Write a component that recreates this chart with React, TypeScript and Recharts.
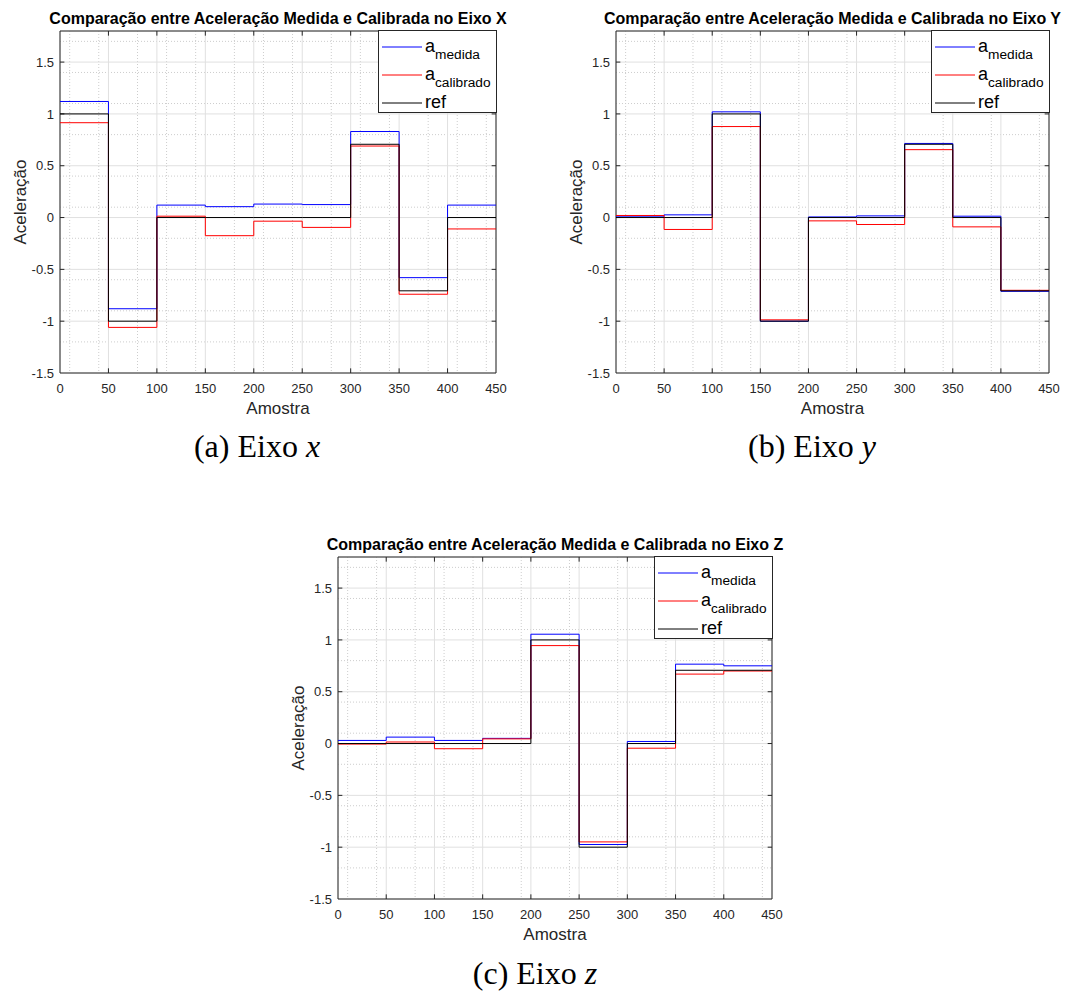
import React from 'react';
import { LineChart, Line, XAxis, YAxis, CartesianGrid, ReferenceArea, ReferenceLine, Legend } from 'recharts';

const FONT = '"Liberation Sans", Arial, Helvetica, sans-serif';
const SERIF = '"Liberation Serif", "Times New Roman", serif';

// sample positions of segment starts (x axis: Amostra)
const samples = [0, 50, 100, 150, 200, 250, 300, 350, 400, 450];
const xTicks = [0, 50, 100, 150, 200, 250, 300, 350, 400, 450];
const yTicks = [-1.5, -1, -0.5, 0, 0.5, 1, 1.5];
const xMinor = [10, 20, 30, 40, 60, 70, 80, 90, 110, 120, 130, 140, 160, 170, 180, 190, 210, 220, 230, 240, 260, 270, 280, 290, 310, 320, 330, 340, 360, 370, 380, 390, 410, 420, 430, 440];
const yMinor = [-1.4, -1.3, -1.2, -1.1, -0.9, -0.8, -0.7, -0.6, -0.4, -0.3, -0.2, -0.1, 0.1, 0.2, 0.3, 0.4, 0.6, 0.7, 0.8, 0.9, 1.1, 1.2, 1.3, 1.4, 1.6, 1.7];

// Eixo X
const xMedida = [1.12, -0.88, 0.12, 0.105, 0.13, 0.125, 0.83, -0.58, 0.12];
const xCalibrado = [0.915, -1.06, 0.013, -0.175, -0.035, -0.095, 0.69, -0.74, -0.11];
const xRef = [1, -1, 0, 0, 0, 0, 0.707, -0.707, 0];

// Eixo Y
const yMedida = [0.013, 0.026, 1.02, -1.0, 0.006, 0.016, 0.715, 0.013, -0.712];
const yCalibrado = [0.02, -0.115, 0.878, -0.987, -0.032, -0.067, 0.655, -0.09, -0.702];
const yRef = [0, 0, 1, -1, 0, 0, 0.707, 0, -0.707];

// Eixo Z
const zMedida = [0.03, 0.062, 0.03, 0.05, 1.055, -0.974, 0.02, 0.766, 0.75];
const zCalibrado = [-0.005, 0.015, -0.05, 0.045, 0.945, -0.949, -0.045, 0.67, 0.7];
const zRef = [0, 0, 0, 0, 1, -1, 0, 0.707, 0.707];

const X_MIN = 0;
const X_MAX = 450;
const Y_MIN = -1.5;
const Y_MAX = 1.8;
const TICK_LEN_Y = 0.045;
const TICK_LEN_X = 4.5;

function buildData(med: number[], cal: number[], ref: number[]) {
  return samples.map((s, i) => {
    const k = Math.min(i, med.length - 1);
    return { s, med: med[k], cal: cal[k], ref: ref[k] };
  });
}

const legendRows = [
  { color: '#0000ff', main: 'a', sub: 'medida' },
  { color: '#ff0000', main: 'a', sub: 'calibrado' },
  { color: '#000000', main: 'ref', sub: '' },
];

const LegendBox = () => (
  <div style={{ width: 119, height: 83, border: '1px solid #262626', background: '#fff', boxSizing: 'border-box' }}>
    <svg width={117} height={81} style={{ display: 'block' }}>
      {legendRows.map((r, i) => {
        const y = 16 + i * 28;
        return (
          <g key={i}>
            <line x1={3} x2={43} y1={y} y2={y} stroke={r.color} strokeWidth={1} />
            <text x={46} y={y + 5} fontSize={18} fontFamily={FONT} fill="#000">
              {r.main}
              {r.sub ? (
                <tspan fontSize={13.7} dy={7}>
                  {r.sub}
                </tspan>
              ) : null}
            </text>
          </g>
        );
      })}
    </svg>
  </div>
);

type PanelProps = {
  left: number;
  top: number;
  width: number;
  mr: number;
  med: number[];
  cal: number[];
  ref: number[];
};

function Panel({ left, top, width, mr, med, cal, ref }: PanelProps) {
  const data = buildData(med, cal, ref);
  const plotRight = width - mr;
  const innerTicksX = xTicks.filter((t) => t !== X_MIN && t !== X_MAX);
  const innerTicksY = yTicks.filter((t) => t !== Y_MIN);
  return (
    <div style={{ position: 'absolute', left, top }}>
      <LineChart width={width} height={430} data={data} margin={{ top: 31, right: mr, left: 0, bottom: 0 }}>
        <CartesianGrid verticalValues={xMinor} horizontalValues={yMinor} stroke="#cdcdcd" strokeDasharray="1 2" />
        <CartesianGrid stroke="#e0e0e0" />
        <XAxis
          dataKey="s"
          type="number"
          domain={[X_MIN, X_MAX]}
          ticks={xTicks}
          allowDataOverflow
          axisLine={false}
          tickLine={false}
          tickSize={0}
          tickMargin={11}
          height={57}
          tick={{ fontSize: 13, fill: '#262626', fontFamily: FONT }}
          label={(p: any) => {
            const vb = (p && p.viewBox) || { x: 60, y: 373, width: 436 };
            return (
              <text x={vb.x + vb.width / 2} y={vb.y + 41} textAnchor="middle" fontSize={17} fill="#262626" fontFamily={FONT}>
                Amostra
              </text>
            );
          }}
        />
        <YAxis
          type="number"
          domain={[Y_MIN, Y_MAX]}
          ticks={yTicks}
          allowDataOverflow
          axisLine={false}
          tickLine={false}
          tickSize={0}
          tickMargin={6}
          width={60}
          tick={{ fontSize: 13, fill: '#262626', fontFamily: FONT }}
          label={(p: any) => {
            const vb = (p && p.viewBox) || { x: 0, y: 31, width: 60, height: 342 };
            const cx = vb.x + vb.width - 34;
            const cy = vb.y + vb.height / 2;
            return (
              <text x={cx} y={cy} transform={`rotate(-90 ${cx} ${cy})`} textAnchor="middle" fontSize={17} fill="#262626" fontFamily={FONT}>
                Aceleração
              </text>
            );
          }}
        />
        <ReferenceArea x1={X_MIN} x2={X_MAX} y1={Y_MIN} y2={Y_MAX} fill="none" fillOpacity={0} stroke="#262626" strokeWidth={1} ifOverflow="visible" />
        {innerTicksX.map((t) => (
          <ReferenceLine key={'xb' + t} segment={[{ x: t, y: Y_MIN }, { x: t, y: Y_MIN + TICK_LEN_Y }]} stroke="#262626" strokeWidth={1} />
        ))}
        {innerTicksX.map((t) => (
          <ReferenceLine key={'xt' + t} segment={[{ x: t, y: Y_MAX }, { x: t, y: Y_MAX - TICK_LEN_Y }]} stroke="#262626" strokeWidth={1} />
        ))}
        {innerTicksY.map((t) => (
          <ReferenceLine key={'yl' + t} segment={[{ x: X_MIN, y: t }, { x: X_MIN + TICK_LEN_X, y: t }]} stroke="#262626" strokeWidth={1} />
        ))}
        {innerTicksY.map((t) => (
          <ReferenceLine key={'yr' + t} segment={[{ x: X_MAX, y: t }, { x: X_MAX - TICK_LEN_X, y: t }]} stroke="#262626" strokeWidth={1} />
        ))}
        <Line type="stepAfter" dataKey="med" stroke="#0000ff" strokeWidth={1} dot={false} activeDot={false} isAnimationActive={false} />
        <Line type="stepAfter" dataKey="cal" stroke="#ff0000" strokeWidth={1} dot={false} activeDot={false} isAnimationActive={false} />
        <Line type="stepAfter" dataKey="ref" stroke="#000000" strokeWidth={1} dot={false} activeDot={false} isAnimationActive={false} />
        <Legend
          layout="vertical"
          align="center"
          verticalAlign="middle"
          content={() => <LegendBox />}
          wrapperStyle={{ position: 'absolute', top: 30, left: plotRight - 118, width: 119, height: 83 }}
        />
      </LineChart>
    </div>
  );
}

const panels = [
  { key: 'x', left: 0, top: 0, width: 520, mr: 24, med: xMedida, cal: xCalibrado, ref: xRef, title: 'Comparação entre Aceleração Medida e Calibrada no Eixo X', capLetter: 'a', capVar: 'x', capX: 257, capY: 457 },
  { key: 'y', left: 556, top: 0, width: 511, mr: 18, med: yMedida, cal: yCalibrado, ref: yRef, title: 'Comparação entre Aceleração Medida e Calibrada no Eixo Y', capLetter: 'b', capVar: 'y', capX: 812, capY: 457 },
  { key: 'z', left: 278, top: 526, width: 518, mr: 24, med: zMedida, cal: zCalibrado, ref: zRef, title: 'Comparação entre Aceleração Medida e Calibrada no Eixo Z', capLetter: 'c', capVar: 'z', capX: 535, capY: 984 },
];

export default function App() {
  return (
    <div style={{ position: 'absolute', left: 0, top: 0, width: 1067, height: 992, background: '#fff', overflow: 'hidden' }}>
      <svg width={1067} height={992} style={{ position: 'absolute', left: 0, top: 0 }}>
        {panels.map((p) => (
          <g key={p.key}>
            <text
              x={p.left + (60 + p.width - p.mr) / 2}
              y={p.top + 24}
              textAnchor="middle"
              fontSize={16}
              fontWeight="bold"
              fontFamily={FONT}
              fill="#000"
            >
              {p.title}
            </text>
            <text x={p.capX} y={p.capY} textAnchor="middle" fontSize={32} fontFamily={SERIF} fill="#000">
              {`(${p.capLetter}) Eixo `}
              <tspan fontStyle="italic">{p.capVar}</tspan>
            </text>
          </g>
        ))}
      </svg>
      {panels.map((p) => (
        <Panel key={p.key} left={p.left} top={p.top} width={p.width} mr={p.mr} med={p.med} cal={p.cal} ref={p.ref} />
      ))}
    </div>
  );
}
